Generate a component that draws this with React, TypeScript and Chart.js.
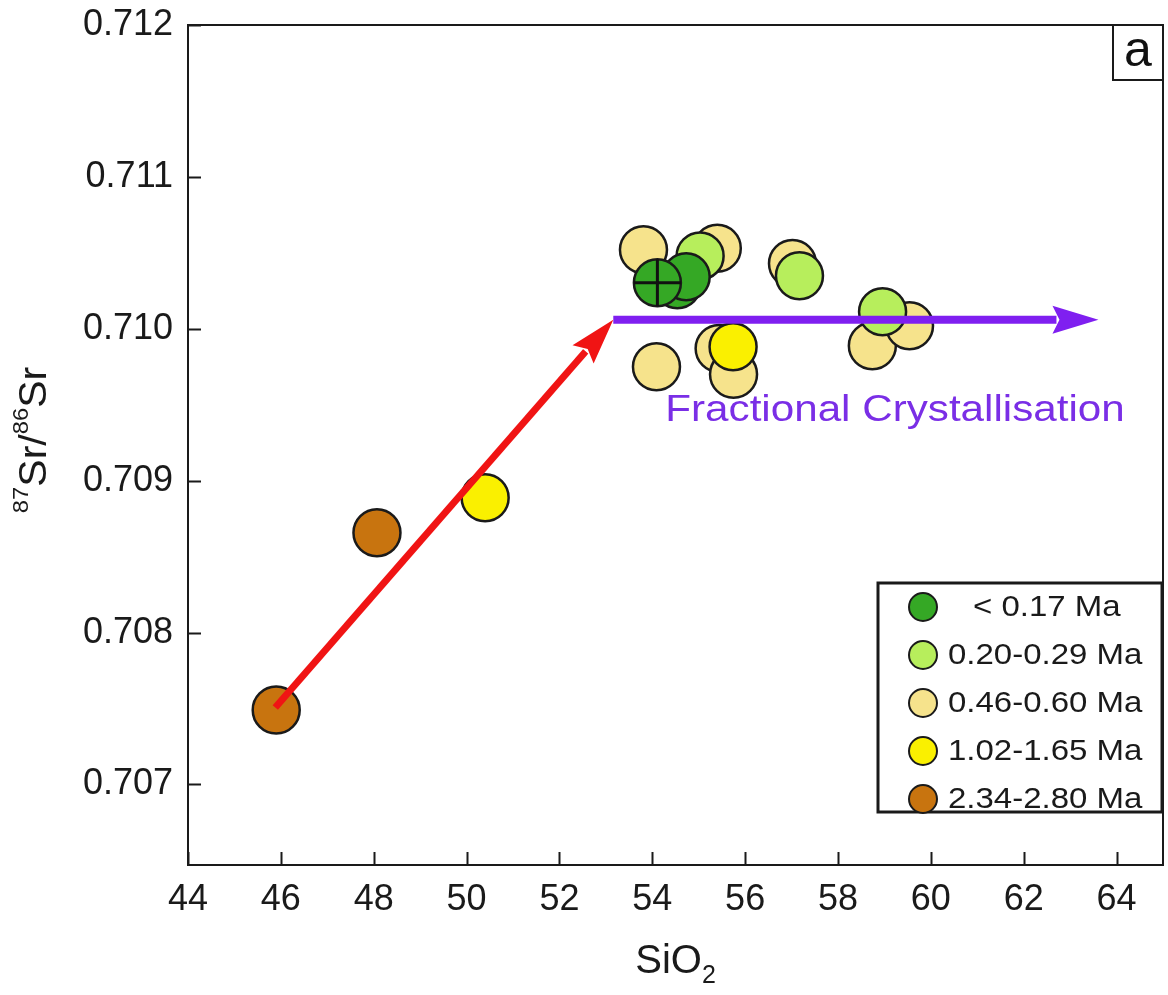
import { useEffect, useRef } from 'react';
import { Chart, registerables } from 'chart.js';

Chart.register(...registerables);

// ---------- data ----------
const AGE_LABELS = ['< 0.17 Ma', '0.20-0.29 Ma', '0.46-0.60 Ma', '1.02-1.65 Ma', '2.34-2.80 Ma'];
const AGE_COLORS = ['#35A825', '#B7EE5C', '#F6E38C', '#FAF000', '#C8740F'];

const darkGreenSi = [54.54, 54.73, 54.11];
const darkGreenSr = [0.71029, 0.710342, 0.710303];
const markedSi = [54.11];
const markedSr = [0.710303];
const lightGreenSi = [55.03, 57.17, 58.96];
const lightGreenSr = [0.71048, 0.710349, 0.710112];
const paleYellowSi = [53.81, 55.4, 57.02, 54.09, 55.44, 55.75, 58.74, 59.54];
const paleYellowSr = [0.71052, 0.71053, 0.71043, 0.70975, 0.70987, 0.7097, 0.709888, 0.71002];
const yellowSi = [50.4, 55.74];
const yellowSr = [0.708888, 0.709882];
const brownSi = [45.9, 48.07];
const brownSr = [0.70749, 0.708658];

const mixingSi = [45.88, 53.16];
const mixingSr = [0.707507, 0.71006];
const fcSi = [53.16, 63.61];
const fcSr = [0.71006, 0.71006];

const FC_LABEL = 'Fractional Crystallisation';
const FC_LABEL_POS = { x: 54.28, y: 0.709395 };
const PANEL_LABEL = 'a';

const X_TICKS = [44, 46, 48, 50, 52, 54, 56, 58, 60, 62, 64];
const Y_TICKS = [0.707, 0.708, 0.709, 0.71, 0.711, 0.712];
const X_MIN = 44;
const X_MAX = 65;
const Y_MIN = 0.70647;
const Y_MAX = 0.712;

// ---------- helpers ----------
const pts = (xs: number[], ys: number[]) => xs.map((x, i) => ({ x, y: ys[i] }));
const FONT = "'Liberation Sans', Arial, Helvetica, sans-serif";
const INK = '#1a1a1a';

type Part = { t: string; size: number; dy: number };

function richWidth(ctx: CanvasRenderingContext2D, parts: Part[]) {
  let w = 0;
  for (const p of parts) {
    ctx.font = `${p.size}px ${FONT}`;
    w += ctx.measureText(p.t).width;
  }
  return w;
}

function drawRich(ctx: CanvasRenderingContext2D, parts: Part[], x: number, y: number) {
  let cx = x;
  ctx.textBaseline = 'alphabetic';
  ctx.textAlign = 'left';
  for (const p of parts) {
    ctx.font = `${p.size}px ${FONT}`;
    ctx.fillText(p.t, cx, y + p.dy);
    cx += ctx.measureText(p.t).width;
  }
}

function arrowGeom(meta: any) {
  const d = meta.data;
  const n = d.length;
  const tip = { x: d[n - 1].x, y: d[n - 1].y };
  const prev = { x: d[n - 2].x, y: d[n - 2].y };
  const len = Math.hypot(tip.x - prev.x, tip.y - prev.y) || 1;
  const dir = { x: (tip.x - prev.x) / len, y: (tip.y - prev.y) / len };
  const perp = { x: -dir.y, y: dir.x };
  return { tip, dir, perp };
}

const HEAD_LEN = 46;
const HEAD_HALF = 14;

const decorPlugin = {
  id: 'decor',
  beforeDatasetDraw(chart: any, args: any) {
    const ds = chart.data.datasets[args.index];
    if (!ds.arrow) return;
    const { tip, dir, perp } = arrowGeom(args.meta);
    const ctx = chart.ctx;
    ctx.save();
    ctx.beginPath();
    ctx.rect(0, 0, chart.width, chart.height);
    const b = { x: tip.x - dir.x * (HEAD_LEN - 4), y: tip.y - dir.y * (HEAD_LEN - 4) };
    const f = { x: tip.x + dir.x * 10, y: tip.y + dir.y * 10 };
    const W = 30;
    ctx.moveTo(b.x + perp.x * W, b.y + perp.y * W);
    ctx.lineTo(f.x + perp.x * W, f.y + perp.y * W);
    ctx.lineTo(f.x - perp.x * W, f.y - perp.y * W);
    ctx.lineTo(b.x - perp.x * W, b.y - perp.y * W);
    ctx.closePath();
    ctx.clip('evenodd');
  },
  afterDatasetDraw(chart: any, args: any) {
    const ds = chart.data.datasets[args.index];
    if (!ds.arrow) return;
    const ctx = chart.ctx;
    ctx.restore();
    const { tip, dir, perp } = arrowGeom(args.meta);
    const base = { x: tip.x - dir.x * HEAD_LEN, y: tip.y - dir.y * HEAD_LEN };
    const notch = { x: tip.x - dir.x * (HEAD_LEN - 7), y: tip.y - dir.y * (HEAD_LEN - 7) };
    ctx.save();
    ctx.fillStyle = ds.borderColor;
    ctx.beginPath();
    ctx.moveTo(tip.x, tip.y);
    ctx.lineTo(base.x + perp.x * HEAD_HALF, base.y + perp.y * HEAD_HALF);
    ctx.lineTo(notch.x, notch.y);
    ctx.lineTo(base.x - perp.x * HEAD_HALF, base.y - perp.y * HEAD_HALF);
    ctx.closePath();
    ctx.fill();
    ctx.restore();
  },
  afterDraw(chart: any) {
    const ctx: CanvasRenderingContext2D = chart.ctx;
    const a = chart.chartArea;
    const xs = chart.scales.x;
    const ys = chart.scales.y;
    ctx.save();

    // frame
    ctx.strokeStyle = INK;
    ctx.lineWidth = 2;
    ctx.strokeRect(a.left, a.top, a.right - a.left, a.bottom - a.top);

    // inward tick marks
    ctx.lineWidth = 2;
    ctx.beginPath();
    for (const t of xs.ticks) {
      const px = Math.round(xs.getPixelForValue(t.value)) + 0.5;
      ctx.moveTo(px, a.bottom);
      ctx.lineTo(px, a.bottom - 13);
    }
    for (const t of ys.ticks) {
      const py = Math.round(ys.getPixelForValue(t.value)) + 0.5;
      ctx.moveTo(a.left, py);
      ctx.lineTo(a.left + 13, py);
    }
    ctx.stroke();

    // annotation text
    ctx.fillStyle = '#7A2EE6';
    ctx.font = `37px ${FONT}`;
    ctx.textBaseline = 'alphabetic';
    ctx.textAlign = 'left';
    const tx = xs.getPixelForValue(FC_LABEL_POS.x);
    const ty = ys.getPixelForValue(FC_LABEL_POS.y);
    ctx.save();
    ctx.translate(tx, ty);
    ctx.scale(1.14, 1);
    ctx.fillText(FC_LABEL, 0, 0);
    ctx.restore();

    // panel label
    ctx.fillStyle = '#fff';
    ctx.fillRect(a.right - 50, a.top, 50, 55);
    ctx.strokeStyle = INK;
    ctx.lineWidth = 2;
    ctx.strokeRect(a.right - 50, a.top, 50, 55);
    ctx.fillStyle = '#111';
    ctx.font = `50px ${FONT}`;
    ctx.textAlign = 'center';
    ctx.fillText(PANEL_LABEL, a.right - 25, a.top + 41);

    // legend
    const lx = 878, ly = 583, lw = 284, lh = 229;
    ctx.fillStyle = '#fff';
    ctx.fillRect(lx, ly, lw, lh);
    ctx.strokeStyle = INK;
    ctx.lineWidth = 3;
    ctx.strokeRect(lx, ly, lw, lh);
    const items = chart.data.datasets.filter((d: any) => d.label && !d.arrow);
    items.forEach((d: any, i: number) => {
      const cy = ly + 24 + i * 48;
      ctx.beginPath();
      ctx.arc(lx + 45, cy, 14, 0, Math.PI * 2);
      ctx.fillStyle = d.backgroundColor;
      ctx.fill();
      ctx.lineWidth = 2;
      ctx.strokeStyle = INK;
      ctx.stroke();
      ctx.fillStyle = '#1a1a1a';
      ctx.font = `30px ${FONT}`;
      ctx.textAlign = 'left';
      ctx.textBaseline = 'middle';
      ctx.save();
      ctx.translate(lx + 70 + (i === 0 ? 25 : 0), cy + 1);
      ctx.scale(1.1, 1);
      ctx.fillText(d.label, 0, 0);
      ctx.restore();
    });

    // axis titles
    ctx.fillStyle = '#1a1a1a';
    const xParts: Part[] = [
      { t: 'SiO', size: 40, dy: 0 },
      { t: '2', size: 25, dy: 10 },
    ];
    const xw = richWidth(ctx, xParts);
    drawRich(ctx, xParts, (a.left + a.right) / 2 - xw / 2, 973);

    const yParts: Part[] = [
      { t: '87', size: 22, dy: -18 },
      { t: 'Sr/', size: 38, dy: 0 },
      { t: '86', size: 22, dy: -18 },
      { t: 'Sr', size: 38, dy: 0 },
    ];
    const yw = richWidth(ctx, yParts) * 1.08;
    ctx.save();
    ctx.translate(46, 440);
    ctx.rotate(-Math.PI / 2);
    ctx.scale(1.08, 1);
    drawRich(ctx, yParts, -yw / 2 / 1.08, 0);
    ctx.restore();

    ctx.restore();
  },
};

export default function App() {
  const ref = useRef<HTMLCanvasElement>(null);
  useEffect(() => {
    const canvas = ref.current!;
    const pointStyle = { borderColor: INK, borderWidth: 2.5, pointRadius: 23.5, pointHoverRadius: 23.5 };
    const chart = new Chart(canvas, {
      type: 'scatter',
      data: {
        datasets: [
          { label: AGE_LABELS[0], data: pts(darkGreenSi, darkGreenSr), backgroundColor: AGE_COLORS[0], ...pointStyle, order: 2 },
          { label: AGE_LABELS[1], data: pts(lightGreenSi, lightGreenSr), backgroundColor: AGE_COLORS[1], ...pointStyle, order: 5 },
          { label: AGE_LABELS[2], data: pts(paleYellowSi, paleYellowSr), backgroundColor: AGE_COLORS[2], ...pointStyle, order: 6 },
          { label: AGE_LABELS[3], data: pts(yellowSi, yellowSr), backgroundColor: AGE_COLORS[3], ...pointStyle, order: 3 },
          { label: AGE_LABELS[4], data: pts(brownSi, brownSr), backgroundColor: AGE_COLORS[4], ...pointStyle, order: 4 },
          {
            data: pts(markedSi, markedSr),
            pointStyle: 'cross',
            pointRadius: 23.5,
            borderColor: '#111',
            borderWidth: 3,
            backgroundColor: 'transparent',
            order: 1,
          } as any,
          {
            type: 'line',
            arrow: true,
            data: pts(mixingSi, mixingSr),
            borderColor: '#F01414',
            borderWidth: 7,
            pointRadius: 0,
            showLine: true,
            fill: false,
            tension: 0,
            order: 0,
          } as any,
          {
            type: 'line',
            arrow: true,
            data: pts(fcSi, fcSr),
            borderColor: '#7F1FF0',
            borderWidth: 8,
            pointRadius: 0,
            showLine: true,
            fill: false,
            tension: 0,
            order: 0,
          } as any,
        ],
      },
      options: {
        responsive: false,
        animation: false,
        events: [],
        layout: { autoPadding: false, padding: { top: 25, right: 5, left: 0, bottom: 0 } },
        plugins: { legend: { display: false }, tooltip: { enabled: false } },
        scales: {
          x: {
            type: 'linear',
            min: X_MIN,
            max: X_MAX,
            border: { display: false },
            grid: { display: false, drawTicks: false },
            afterBuildTicks: (s: any) => { s.ticks = X_TICKS.map((value) => ({ value })); },
            afterFit: (s: any) => { s.height = 130; s.paddingLeft = 0; s.paddingRight = 0; },
            ticks: {
              padding: 13,
              color: '#1a1a1a',
              font: { family: FONT, size: 36 },
              callback: (v: any) => String(v),
              maxRotation: 0,
              autoSkip: false,
            },
          },
          y: {
            type: 'linear',
            min: Y_MIN,
            max: Y_MAX,
            border: { display: false },
            grid: { display: false, drawTicks: false },
            afterBuildTicks: (s: any) => { s.ticks = Y_TICKS.map((value) => ({ value })); },
            afterFit: (s: any) => { s.width = 188; s.paddingTop = 0; s.paddingBottom = 0; },
            ticks: {
              padding: 15,
              color: '#1a1a1a',
              font: { family: FONT, size: 36 },
              callback: (v: any) => Number(v).toFixed(3),
              autoSkip: false,
            },
          },
        },
      },
      plugins: [decorPlugin],
    } as any);
    return () => chart.destroy();
  }, []);
  return (
    <div style={{ position: 'fixed', left: 0, top: 0, width: 1168, height: 995, background: '#fff' }}>
      <canvas ref={ref} width={1168} height={995} style={{ display: 'block', width: 1168, height: 995 }} />
    </div>
  );
}
